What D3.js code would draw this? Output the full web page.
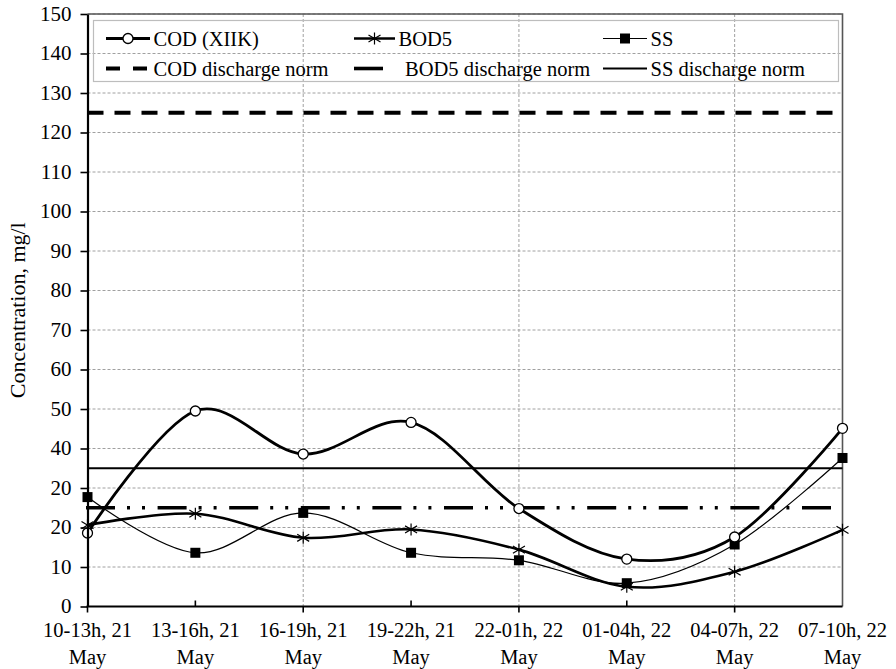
<!DOCTYPE html>
<html>
<head>
<meta charset="utf-8">
<script src="https://cdn.jsdelivr.net/npm/d3@7"></script>
<style>
  html, body { margin: 0; padding: 0; background: #fff; }
  svg { display: block; }
  svg text { font-family: "Liberation Serif", "Times New Roman", Times, serif; }
</style>
</head>
<body>
<svg id="chart" width="896" height="669"></svg>
<script>
const serif = "'Liberation Serif', 'Times New Roman', Times, serif";

// Sampling periods (two-line tick labels)
const periods = [
  ["10-13h, 21", "May"], ["13-16h, 21", "May"], ["16-19h, 21", "May"], ["19-22h, 21", "May"],
  ["22-01h, 22", "May"], ["01-04h, 22", "May"], ["04-07h, 22", "May"], ["07-10h, 22", "May"]
];
const categories = periods.map(p => p.join(" "));

// Measured concentrations, mg/l
const codValues  = [18.6, 49.5, 38.6, 46.6, 24.8, 12.0, 17.6, 45.1];
const bod5Values = [20.6, 23.5, 17.4, 19.5, 14.4, 5.0, 8.8, 19.4];
const ssValues   = [27.7, 13.6, 23.7, 13.6, 11.7, 5.9, 15.7, 37.6];

// Discharge norms, mg/l
const codNorm = 125;
const bod5Norm = 25;
const ssNorm = 35;

// Y axis ticks and their printed labels
const yTicks = [0, 10, 20, 30, 40, 50, 60, 70, 80, 90, 100, 110, 120, 130, 140, 150];
const yTickLabels = ["0", "10", "20", "20", "40", "50", "60", "70", "80", "90", "100", "110", "120", "130", "140", "150"];

const legendRows = [
  ["COD (XIIK)", "BOD5", "SS"],
  ["COD discharge norm", "BOD5 discharge norm", "SS discharge norm"]
];

const svg = d3.select("#chart");
const plot = { left: 87.5, right: 842.5, top: 14, bottom: 606.5 };

const x = d3.scalePoint().domain(categories).range([plot.left, plot.right]);
const y = d3.scaleLinear().domain([0, 150]).range([plot.bottom, plot.top]);

// Horizontal grid
svg.append("g").selectAll("line").data(yTicks.filter(d => d > 0)).join("line")
  .attr("x1", plot.left).attr("x2", plot.right)
  .attr("y1", d => y(d)).attr("y2", d => y(d))
  .attr("stroke", "#a0a0a0").attr("stroke-width", 1).attr("stroke-dasharray", "3,2");

// Vertical grid on every other period
svg.append("g").selectAll("line").data(categories.filter((c, i) => i % 2 === 0 && i > 0)).join("line")
  .attr("x1", d => x(d)).attr("x2", d => x(d))
  .attr("y1", plot.top).attr("y2", plot.bottom)
  .attr("stroke", "#a0a0a0").attr("stroke-width", 1).attr("stroke-dasharray", "3,2");

// Plot frame (top and right)
svg.append("path")
  .attr("d", `M${plot.left},${plot.top}H${plot.right}V${plot.bottom}`)
  .attr("fill", "none").attr("stroke", "#555").attr("stroke-width", 1.6);

// Legend box
svg.append("rect")
  .attr("x", 93.5).attr("y", 20.5).attr("width", 745).attr("height", 61)
  .attr("fill", "none").attr("stroke", "#bdbdbd").attr("stroke-width", 1.2);

// Norm lines
const codDash = "16,11";
const bodDash = "29,12,3,12,3,12.6";
svg.append("line")
  .attr("x1", plot.left).attr("x2", plot.right).attr("y1", y(codNorm)).attr("y2", y(codNorm))
  .attr("stroke", "#000").attr("stroke-width", 4).attr("stroke-dasharray", codDash);
svg.append("line")
  .attr("x1", plot.left - 1.5).attr("x2", plot.right - 8).attr("y1", y(bod5Norm)).attr("y2", y(bod5Norm))
  .attr("stroke", "#000").attr("stroke-width", 3.6).attr("stroke-dasharray", bodDash);
svg.append("line")
  .attr("x1", plot.left).attr("x2", plot.right).attr("y1", y(ssNorm)).attr("y2", y(ssNorm))
  .attr("stroke", "#000").attr("stroke-width", 2);

// Series
const smooth = d3.line().curve(d3.curveCardinal.tension(0))
  .x((d, i) => x(categories[i])).y(d => y(d));

const series = [
  { values: ssValues, width: 1.2, marker: "square" },
  { values: bod5Values, width: 2.6, marker: "star" },
  { values: codValues, width: 2.8, marker: "circle" }
];

function drawMarker(g, type, cx, cy) {
  if (type === "circle") {
    g.append("circle").attr("cx", cx).attr("cy", cy).attr("r", 5)
      .attr("fill", "#fff").attr("stroke", "#000").attr("stroke-width", 1.3);
  } else if (type === "square") {
    g.append("rect").attr("x", cx - 5).attr("y", cy - 5).attr("width", 10).attr("height", 10)
      .attr("fill", "#000");
  } else {
    const r = 6;
    const p = `M${cx},${cy - r}V${cy + r}M${cx - r},${cy - r * 0.6}L${cx + r},${cy + r * 0.6}M${cx - r},${cy + r * 0.6}L${cx + r},${cy - r * 0.6}`;
    g.append("path").attr("d", p).attr("stroke", "#000").attr("stroke-width", 1.2).attr("fill", "none");
  }
}

series.forEach(s => {
  svg.append("path").datum(s.values).attr("d", smooth)
    .attr("fill", "none").attr("stroke", "#000").attr("stroke-width", s.width);
});
series.forEach(s => {
  const g = svg.append("g");
  s.values.forEach((v, i) => drawMarker(g, s.marker, x(categories[i]), y(v)));
});

// Y axis
const yAxis = d3.axisLeft(y).tickValues(yTicks).tickFormat((d, i) => yTickLabels[i])
  .tickSizeOuter(0).tickSizeInner(7).tickPadding(9);
const yg = svg.append("g").attr("transform", `translate(${plot.left},0)`).call(yAxis)
  .attr("font-family", serif).attr("font-size", 21);
yg.select(".domain").attr("stroke", "#000").attr("stroke-width", 2.2);
yg.selectAll(".tick line").attr("stroke", "#000").attr("stroke-width", 1.6);
yg.selectAll(".tick text").attr("fill", "#000").attr("dy", "0.3em")
  .style("font-family", serif).style("font-size", "21px");

// X axis line with alternating outward / inward ticks
const xg = svg.append("g");
xg.append("line").attr("x1", plot.left - 1).attr("x2", plot.right)
  .attr("y1", plot.bottom).attr("y2", plot.bottom)
  .attr("stroke", "#000").attr("stroke-width", 2.2);
xg.selectAll(".xt").data(categories.slice(0, -1)).join("line")
  .attr("x1", d => x(d)).attr("x2", d => x(d))
  .attr("y1", plot.bottom)
  .attr("y2", (d, i) => i % 2 === 0 ? plot.bottom + 6 : plot.bottom - 6)
  .attr("stroke", "#000").attr("stroke-width", 1.6);
const xl = xg.selectAll(".xl").data(periods).join("text")
  .attr("text-anchor", "middle").attr("fill", "#000")
  .style("font-family", serif).style("font-size", "20.5px");
xl.append("tspan").attr("x", (d, i) => x(categories[i])).attr("y", 637).text(d => d[0]);
xl.append("tspan").attr("x", (d, i) => x(categories[i])).attr("y", 664).text(d => d[1]);

// Y axis title
svg.append("text")
  .attr("transform", `translate(25,${(plot.top + plot.bottom) / 2}) rotate(-90)`)
  .attr("text-anchor", "middle").attr("fill", "#000")
  .style("font-family", serif).style("font-size", "22px")
  .text("Concentration, mg/l");

// Legend entries
const legendCols = [106, 354, 603];
const legendY = [38.5, 68.5];
const legendSymbolW = [44, 41, 44];
legendRows.forEach((row, r) => {
  row.forEach((label, c) => {
    const lx = legendCols[c];
    const ly = legendY[r];
    const w = legendSymbolW[c];
    const g = svg.append("g");
    if (r === 0) {
      g.append("line").attr("x1", lx).attr("x2", lx + w).attr("y1", ly).attr("y2", ly)
        .attr("stroke", "#000").attr("stroke-width", series[2 - c].width);
      drawMarker(g, series[2 - c].marker, lx + w / 2, ly);
    } else if (c === 0) {
      g.append("line").attr("x1", lx).attr("x2", lx + 41).attr("y1", ly).attr("y2", ly)
        .attr("stroke", "#000").attr("stroke-width", 4).attr("stroke-dasharray", "14,13");
    } else if (c === 1) {
      g.append("line").attr("x1", lx).attr("x2", lx + 29).attr("y1", ly).attr("y2", ly)
        .attr("stroke", "#000").attr("stroke-width", 3.6);
    } else {
      g.append("line").attr("x1", lx).attr("x2", lx + 44).attr("y1", ly).attr("y2", ly)
        .attr("stroke", "#000").attr("stroke-width", 2);
    }
    const tx = c === 1 && r === 1 ? lx + 51 : lx + w + 3.5;
    g.append("text").attr("x", tx).attr("y", ly + 7).attr("fill", "#000")
      .style("font-family", serif).style("font-size", "20.5px").text(label);
  });
});
</script>
</body>
</html>
